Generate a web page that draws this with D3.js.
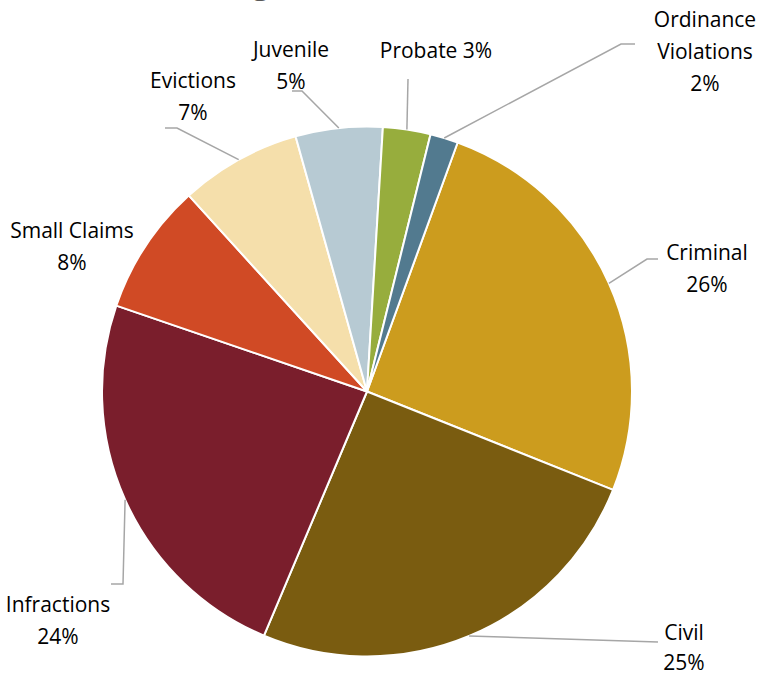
<!DOCTYPE html>
<html>
<head>
<meta charset="utf-8">
<script src="https://cdn.jsdelivr.net/npm/d3@7"></script>
<style>
  html, body { margin: 0; padding: 0; background: #fff; }
  svg { display: block; }
  text { font-family: "Open Sans", "Noto Sans", sans-serif; }
</style>
</head>
<body>
<svg id="chart" width="763" height="677"></svg>
<script>
// ---- data ----
const categories = ["Criminal", "Civil", "Infractions", "Small Claims", "Evictions", "Juvenile", "Probate", "Ordinance Violations"];
const shares = [25.5, 25.3, 23.9, 8.0, 7.4, 5.3, 2.9, 1.7];
const colors = ["#CC9C1E", "#7A5C10", "#7A1E2C", "#D04A25", "#F5DFAB", "#B7CAD3", "#97AD3D", "#527A8F"];
const titleText = "Percentage of Cases Filed";

// label layout (text lines, anchor positions and leader paths)
const labelLines = [
  ["Criminal", "{p}"],
  ["Civil", "{p}"],
  ["Infractions", "{p}"],
  ["Small Claims", "{p}"],
  ["Evictions", "{p}"],
  ["Juvenile", "{p}"],
  ["Probate {p}"],
  ["Ordinance", "Violations", "{p}"]
];
const labelPos = [
  {x: 707, y: 260}, {x: 684, y: 640}, {x: 58, y: 612}, {x: 72, y: 238},
  {x: 193, y: 88}, {x: 291, y: 57}, {x: 436, y: 58}, {x: 705, y: 27}
];
const lineGap = [32, 30, 32, 32, 32, 32, 32, 32];
// knees of leader lines: list of extra points after the arc point (null => no leader)
const leaderKnees = [
  [[647, 259], [658, 259]],
  [[658, 642]],
  [[123, 584], [111, 584]],
  null,
  [[177, 128], [165, 128]],
  [[302, 91], [292, 91]],
  [[408, 79]],
  [[621, 44], [635, 44]]
];

const svg = d3.select("#chart");
const cx = 367, cy = 391.5, R = 265;

// title (cut off at top in the reference)
svg.append("text")
  .attr("x", 118).attr("y", -6)
  .attr("font-size", 30).attr("font-weight", 700)
  .attr("fill", "#595959")
  .text(titleText);

const data = categories.map((c, i) => ({name: c, value: shares[i], color: colors[i], idx: i}));

const startRad = 20 * Math.PI / 180;
const pie = d3.pie().value(d => d.value).sort(null)
  .startAngle(startRad).endAngle(startRad + 2 * Math.PI);
const arcs = pie(data);
const arc = d3.arc().innerRadius(0).outerRadius(R);
const edgeArc = d3.arc().innerRadius(R).outerRadius(R);

const g = svg.append("g").attr("transform", `translate(${cx},${cy})`);
g.selectAll("path.slice").data(arcs).enter().append("path")
  .attr("class", "slice")
  .attr("d", arc)
  .attr("fill", d => d.data.color)
  .attr("stroke", "#fff")
  .attr("stroke-width", 2)
  .attr("stroke-linejoin", "round");

// leader lines
const line = d3.line();
arcs.forEach((a, i) => {
  const knees = leaderKnees[i];
  if (!knees) return;
  const c = edgeArc.centroid(a);
  const pts = [[c[0] + cx, c[1] + cy]].concat(knees);
  svg.append("path")
    .attr("d", line(pts))
    .attr("fill", "none")
    .attr("stroke", "#a6a6a6")
    .attr("stroke-width", 1.5);
});

// labels
const fmt = v => Math.round(v) + "%";
arcs.forEach((a, i) => {
  const p = labelPos[i];
  const t = svg.append("text")
    .attr("x", p.x).attr("y", p.y)
    .attr("text-anchor", "middle")
    .attr("font-size", 21)
    .attr("fill", "#000");
  labelLines[i].forEach((ln, k) => {
    t.append("tspan")
      .attr("x", p.x)
      .attr("y", p.y + k * lineGap[i])
      .text(ln.replace("{p}", fmt(a.data.value)));
  });
});
</script>
</body>
</html>
